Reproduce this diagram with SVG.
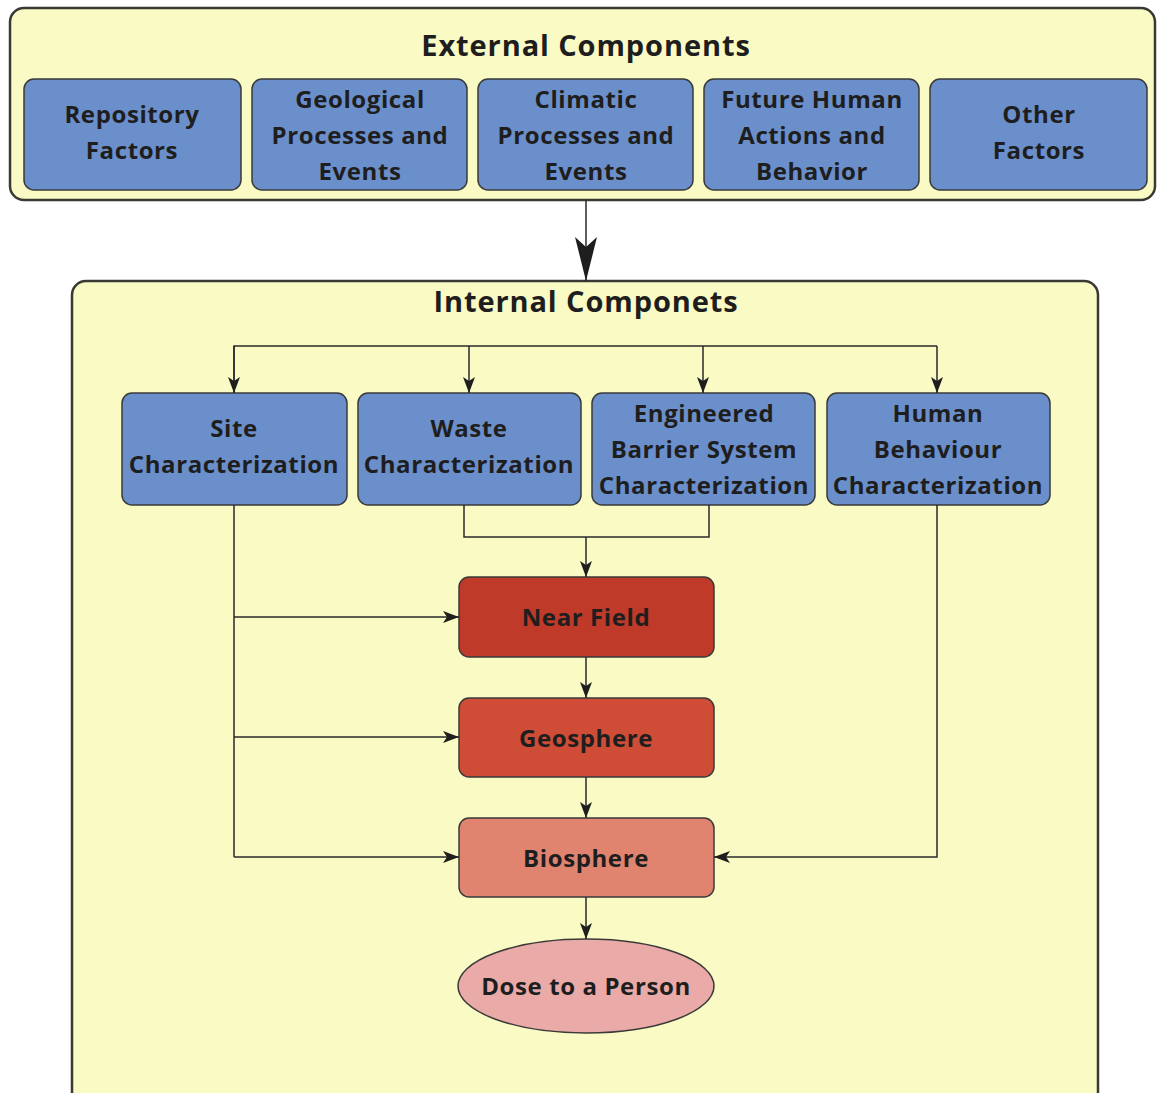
<svg xmlns="http://www.w3.org/2000/svg" width="1157" height="1093" viewBox="0 0 1157 1093">
<style>
.frame{fill:#fafac4;stroke:#3a3a35;stroke-width:2.5}
.blue{fill:#6b8fcb;stroke:#3a3a3a;stroke-width:1.5}
.t{font-family:"Open Sans",Lato,"Liberation Sans",sans-serif;font-weight:bold;fill:#1e1e1e;text-anchor:middle;dominant-baseline:central}
.box{font-size:24px;letter-spacing:0.6px}
.title{font-size:29px;letter-spacing:0.9px}
.conn{fill:none;stroke:#2a2a2a;stroke-width:1.5}
</style>
<defs>
<marker id="ah" viewBox="0 0 16 12" refX="16" refY="6" markerWidth="16" markerHeight="12" markerUnits="userSpaceOnUse" orient="auto">
<path d="M0,0 L16,6 L0,12 L4,6 z" fill="#1e1e1e"/>
</marker>
<marker id="big" viewBox="0 0 44 22" refX="44" refY="11" markerWidth="44" markerHeight="22" markerUnits="userSpaceOnUse" orient="auto">
<path d="M0,0 L44,11 L0,22 L10,11 z" fill="#1e1e1e"/>
</marker>
</defs>
<rect width="1157" height="1093" fill="#ffffff"/>

<g id="external">
<rect class="frame" x="10" y="8" width="1145" height="192" rx="14"/>
<text class="t title" x="586" y="44">External Components</text>
</g>
<g id="repository"><rect class="blue" x="24" y="79" width="217" height="111" rx="10"/>
<text class="t box" x="132" y="113">Repository</text><text class="t box" x="132" y="149">Factors</text></g>
<g id="geological"><rect class="blue" x="252" y="79" width="215" height="111" rx="10"/>
<text class="t box" x="360" y="98">Geological</text><text class="t box" x="360" y="134">Processes and</text><text class="t box" x="360" y="170">Events</text></g>
<g id="climatic"><rect class="blue" x="478" y="79" width="215" height="111" rx="10"/>
<text class="t box" x="586" y="98">Climatic</text><text class="t box" x="586" y="134">Processes and</text><text class="t box" x="586" y="170">Events</text></g>
<g id="future"><rect class="blue" x="704" y="79" width="215" height="111" rx="10"/>
<text class="t box" x="812" y="98">Future Human</text><text class="t box" x="812" y="134">Actions and</text><text class="t box" x="812" y="170">Behavior</text></g>
<g id="other"><rect class="blue" x="930" y="79" width="217" height="111" rx="10"/>
<text class="t box" x="1039" y="113">Other</text><text class="t box" x="1039" y="149">Factors</text></g>

<g id="internal">
<rect class="frame" x="72" y="281" width="1026" height="830" rx="14"/>
<text class="t title" x="586" y="300">Internal Componets</text>
</g>

<g id="site"><rect class="blue" x="122" y="393" width="225" height="112" rx="10"/>
<text class="t box" x="234" y="427">Site</text><text class="t box" x="234" y="463">Characterization</text></g>
<g id="waste"><rect class="blue" x="358" y="393" width="223" height="112" rx="10"/>
<text class="t box" x="469" y="427">Waste</text><text class="t box" x="469" y="463">Characterization</text></g>
<g id="engineered"><rect class="blue" x="592" y="393" width="223" height="112" rx="10"/>
<text class="t box" x="704" y="412">Engineered</text><text class="t box" x="704" y="448">Barrier System</text><text class="t box" x="704" y="484">Characterization</text></g>
<g id="human"><rect class="blue" x="827" y="393" width="223" height="112" rx="10"/>
<text class="t box" x="938" y="412">Human</text><text class="t box" x="938" y="448">Behaviour</text><text class="t box" x="938" y="484">Characterization</text></g>

<g id="nearfield"><rect x="459" y="577" width="255" height="80" rx="10" fill="#bf3a28" stroke="#3a3a3a" stroke-width="1.5"/>
<text class="t box" x="586" y="616">Near Field</text></g>
<g id="geosphere"><rect x="459" y="698" width="255" height="79" rx="10" fill="#cf4c36" stroke="#3a3a3a" stroke-width="1.5"/>
<text class="t box" x="586" y="737">Geosphere</text></g>
<g id="biosphere"><rect x="459" y="818" width="255" height="79" rx="10" fill="#e08470" stroke="#3a3a3a" stroke-width="1.5"/>
<text class="t box" x="586" y="857">Biosphere</text></g>
<g id="dose"><ellipse cx="586" cy="986" rx="128" ry="47" fill="#eaaaa8" stroke="#3a3a3a" stroke-width="1.5"/>
<text class="t box" x="586" y="985">Dose to a Person</text></g>

<g id="connectors">
<line class="conn" x1="586" y1="200" x2="586" y2="281" stroke-width="3" marker-end="url(#big)"/>
<polyline class="conn" points="234,393 234,346 937,346"/>
<line class="conn" x1="234" y1="346" x2="234" y2="393" marker-end="url(#ah)"/>
<line class="conn" x1="469" y1="346" x2="469" y2="393" marker-end="url(#ah)"/>
<line class="conn" x1="703" y1="346" x2="703" y2="393" marker-end="url(#ah)"/>
<line class="conn" x1="937" y1="346" x2="937" y2="393" marker-end="url(#ah)"/>
<polyline class="conn" points="464,505 464,537 709,537 709,505"/>
<line class="conn" x1="586" y1="537" x2="586" y2="577" marker-end="url(#ah)"/>
<line class="conn" x1="234" y1="505" x2="234" y2="857"/>
<line class="conn" x1="234" y1="617" x2="459" y2="617" marker-end="url(#ah)"/>
<line class="conn" x1="234" y1="737" x2="459" y2="737" marker-end="url(#ah)"/>
<line class="conn" x1="234" y1="857" x2="459" y2="857" marker-end="url(#ah)"/>
<polyline class="conn" points="937,505 937,857 714,857" marker-end="url(#ah)"/>
<line class="conn" x1="586" y1="657" x2="586" y2="698" marker-end="url(#ah)"/>
<line class="conn" x1="586" y1="777" x2="586" y2="818" marker-end="url(#ah)"/>
<line class="conn" x1="586" y1="897" x2="586" y2="939" marker-end="url(#ah)"/>
</g>
</svg>
